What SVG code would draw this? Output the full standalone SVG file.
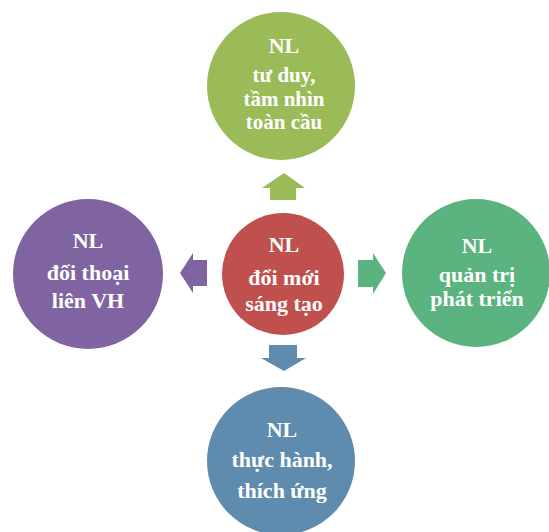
<svg xmlns="http://www.w3.org/2000/svg" width="549" height="532" viewBox="0 0 549 532">
<style>
text{font-family:"Liberation Serif","Times New Roman",serif;font-weight:bold;font-size:22px;fill:#fff;text-anchor:middle}
.t{font-size:21px}
</style>
<rect width="549" height="532" fill="#fff"/>
<g id="connectors">
<polygon fill="#9BBB59" points="284,173 305,188 296,188 296,200 270,200 270,188 262,188"/>
<polygon fill="#8064A2" points="180,273 193,253 193,260 207,260 207,286 193,286 193,293"/>
<polygon fill="#5BB37F" points="386,273 373,253 373,260 358,260 358,287 373,287 373,294"/>
<polygon fill="#5E8BAE" points="284,371 306,358 297,358 297,345 269,345 269,358 261,358"/>
</g>
<g id="top">
<circle cx="281" cy="86" r="74" fill="#9BBB59"/>
<text x="284" y="53">NL</text>
<text class="t" x="284" y="82">tư duy,</text>
<text class="t" x="284" y="106">tầm nhìn</text>
<text class="t" x="284" y="129">toàn cầu</text>
</g>
<g id="center">
<circle cx="283" cy="274" r="61" fill="#C0504D"/>
<text x="284" y="252">NL</text>
<text x="284" y="285">đổi mới</text>
<text x="284" y="311">sáng tạo</text>
</g>
<g id="left">
<circle cx="88" cy="274" r="75" fill="#8064A2"/>
<text x="88" y="248">NL</text>
<text x="88" y="280">đối thoại</text>
<text x="88" y="308">liên VH</text>
</g>
<g id="right">
<circle cx="476" cy="273" r="74" fill="#5BB37F"/>
<text x="477" y="253">NL</text>
<text x="477" y="282">quản trị</text>
<text x="477" y="306">phát triển</text>
</g>
<g id="bottom">
<circle cx="281" cy="461" r="74" fill="#5E8BAE"/>
<text x="282" y="437">NL</text>
<text x="282" y="467">thực hành,</text>
<text x="282" y="498">thích ứng</text>
</g>
</svg>
